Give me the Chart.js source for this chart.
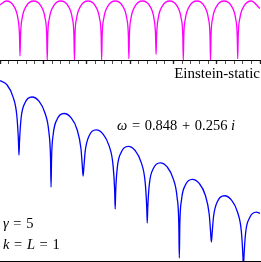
<!DOCTYPE html>
<html>
<head>
<meta charset="utf-8">
<script src="https://cdn.jsdelivr.net/npm/chart.js@4.4.1/dist/chart.umd.min.js"></script>
<style>
  body { margin: 0; width: 261px; height: 262px; overflow: hidden; background: #fff; position: relative; font-family: "Liberation Serif", serif; color: #000; }
  #top { position: absolute; left: 0; top: 0; }
  #bot { position: absolute; left: 0; top: 64px; }
  .lbl { position: absolute; font-size: 14.5px; line-height: 1; white-space: nowrap; }
  .op { margin: 0 1px; }
</style>
</head>
<body>
<canvas id="top" width="261" height="64"></canvas>
<canvas id="bot" width="261" height="201"></canvas>
<div class="lbl" style="right:1px; top:66px; font-size:15px;">Einstein-static</div>
<div class="lbl" style="left:117px; top:118px;"><i>ω</i> <span class="op">=</span> 0.848 <span class="op">+</span> 0.256 <i>i</i></div>
<div class="lbl" style="left:3px; top:216px;"><i>γ</i> <span class="op">=</span> 5</div>
<div class="lbl" style="left:3px; top:237px;"><i>k</i> <span class="op">=</span> <i>L</i> <span class="op">=</span> 1</div>
<script>
// top panel: Einstein-static, log amplitude (no decay)
const topT = [0, 0.74,
  1.61, 2.06, 2.25, 2.31, 2.37, 2.56, 3.01, 3.88,
  4.75, 5.20, 5.39, 5.45, 5.51, 5.70, 6.15, 7.02,
  7.89, 8.34, 8.53, 8.59, 8.65, 8.84, 9.29, 10.16,
  11.03, 11.48, 11.67, 11.73, 11.79, 11.98, 12.43, 13.30,
  14.17, 14.62, 14.81, 14.87, 14.93, 15.12, 15.57, 16.44,
  17.31, 17.76, 17.95, 18.01, 18.07, 18.26, 18.71, 19.58,
  20.45, 20.90, 21.09, 21.15, 21.21, 21.40, 21.85, 22.72,
  23.59, 24.04, 24.23, 24.29, 24.35, 24.54, 24.99, 25.86,
  26.73, 27.18, 27.37, 27.43, 27.49, 27.68, 28.13, 29.00,
  30];
const topY = [-0.14, 0,
  -0.19, -0.61, -1.22, -1.95, -1.22, -0.61, -0.19, 0,
  -0.19, -0.61, -1.22, -2.1, -1.22, -0.61, -0.19, 0,
  -0.19, -0.61, -1.22, -2.1, -1.22, -0.61, -0.19, 0,
  -0.19, -0.61, -1.22, -2.1, -1.22, -0.61, -0.19, 0,
  -0.19, -0.61, -1.22, -2.05, -1.22, -0.61, -0.19, 0,
  -0.19, -0.61, -1.22, -1.9, -1.22, -0.61, -0.19, 0,
  -0.19, -0.61, -1.22, -2.1, -1.22, -0.61, -0.19, 0,
  -0.19, -0.61, -1.22, -2.1, -1.22, -0.61, -0.19, 0,
  -0.19, -0.61, -1.22, -2.05, -1.22, -0.61, -0.19, 0,
  -0.27];

// bottom panel: damped mode, log amplitude
const botT = [0, 0.79,
  1.49, 1.94, 2.13, 2.19, 2.25, 2.44, 2.89, 3.69, 4.49,
  5.19, 5.64, 5.83, 5.89, 5.95, 6.14, 6.59, 7.39, 8.19,
  8.89, 9.34, 9.49, 9.59, 9.69, 9.84, 10.29, 11.09, 11.89,
  12.59, 13.04, 13.23, 13.29, 13.35, 13.54, 13.99, 14.79, 15.59,
  16.29, 16.74, 16.93, 16.99, 17.05, 17.24, 17.69, 18.49, 19.29,
  19.99, 20.44, 20.63, 20.69, 20.75, 20.94, 21.39, 22.19, 22.99,
  23.69, 24.14, 24.29, 24.39, 24.49, 24.64, 25.09, 25.89, 26.69,
  27.39, 27.84, 28.03, 28.09, 28.15, 28.34, 28.79, 29.59, 30];
const botY = [0.036, -0.067,
  -0.364, -0.839, -1.476, -1.825, -1.489, -0.894, -0.519, -0.375, -0.478,
  -0.775, -1.250, -1.887, -2.625, -1.901, -1.306, -0.931, -0.787, -0.890,
  -1.187, -1.662, -2.073, -2.35, -2.096, -1.717, -1.342, -1.198, -1.301,
  -1.598, -2.073, -2.710, -3.175, -2.724, -2.129, -1.754, -1.610, -1.713,
  -2.009, -2.485, -3.122, -3.525, -3.135, -2.540, -2.165, -2.021, -2.124,
  -2.421, -2.896, -3.533, -4.4, -3.546, -2.952, -2.577, -2.433, -2.536,
  -2.832, -3.307, -3.719, -4.0, -3.741, -3.363, -2.988, -2.844, -2.947,
  -3.244, -3.719, -4.356, -4.7, -4.369, -3.774, -3.399, -3.255, -3.282];

const tMin = 0, tMax = 30;

const puntos = (xs, ys) => xs.map((x, i) => ({ x: x, y: ys[i] }));

const ejeX = (tickLen) => ({
  type: "linear",
  min: tMin,
  max: tMax,
  border: { display: true, color: "#000", width: 1 },
  grid: {
    drawOnChartArea: false,
    drawTicks: true,
    tickLength: tickLen,
    tickColor: "#222",
    tickWidth: (ctx) => (ctx.tick && ctx.tick.value % 5 === 0 ? 1.4 : 0.8),
  },
  ticks: { display: false, stepSize: 1, autoSkip: false },
});

const crearGrafico = (id, xs, ys, color, yMin, yMax) => {
  const ctx = document.getElementById(id).getContext("2d");
  return new Chart(ctx, {
    type: "line",
    data: {
      datasets: [{
        data: puntos(xs, ys),
        borderColor: color,
        borderWidth: 1.3,
        pointRadius: 0,
        fill: false,
        cubicInterpolationMode: "monotone",
      }],
    },
    options: {
      responsive: false,
      animation: false,
      layout: { padding: { left: 0, right: 1, top: 0, bottom: 0 } },
      plugins: { legend: { display: false }, tooltip: { enabled: false } },
      scales: {
        x: ejeX(4),
        y: { display: false, min: yMin, max: yMax },
      },
    },
  });
};

crearGrafico("top", topT, topY, "#ff00ff", -2.1, 0.036);
crearGrafico("bot", botT, botY, "#0000ff", -4.475, 0.45);
</script>
</body>
</html>
